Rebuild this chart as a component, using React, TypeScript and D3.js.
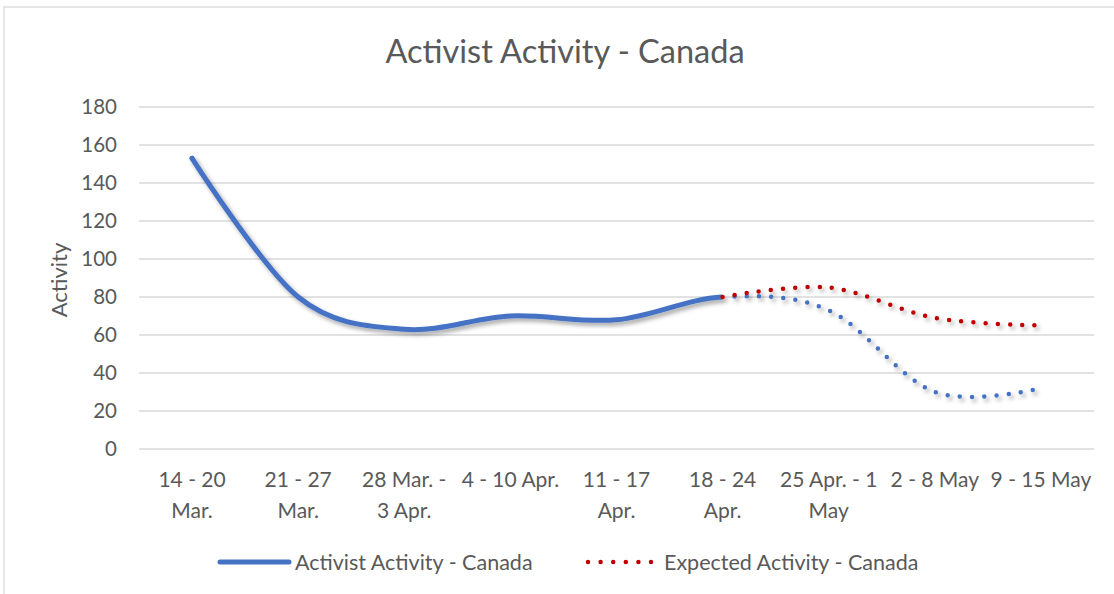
import React from "react";
import * as d3 from "d3";

const categories = [
  "14 - 20 Mar.",
  "21 - 27 Mar.",
  "28 Mar. - 3 Apr.",
  "4 - 10 Apr.",
  "11 - 17 Apr.",
  "18 - 24 Apr.",
  "25 Apr. - 1 May",
  "2 - 8 May",
  "9 - 15 May",
];
const tickLines = [
  ["14 - 20", "Mar."],
  ["21 - 27", "Mar."],
  ["28 Mar. -", "3 Apr."],
  ["4 - 10 Apr."],
  ["11 - 17", "Apr."],
  ["18 - 24", "Apr."],
  ["25 Apr. - 1", "May"],
  ["2 - 8 May"],
  ["9 - 15 May"],
];
// Activist activity: actual up to index 5, projected (dotted) after
const activist = [153, 80, 63, 70, 68, 80, 73, 30, 32];
const lastActualIndex = 5;
const expected: (number | null)[] = [null, null, null, null, null, 80, 85, 69, 65];
const yTicks = [0, 20, 40, 60, 80, 100, 120, 140, 160, 180];

const W = 1114;
const H = 594;
const FONT = "Lato, 'Open Sans', sans-serif";
const TXT = "#595959";
const BLUE = "#4472C4";
const RED = "#C00000";

export default function App() {
  const x = d3.scaleBand<string>().domain(categories).range([139, 1094]);
  const cx = (c: string) => (x(c) as number) + x.bandwidth() / 2;
  const y = d3.scaleLinear().domain([0, 180]).range([449, 107]);

  const pts = activist.map((v, i) => [cx(categories[i]), y(v)] as [number, number]);
  const line = d3.line<[number, number]>().curve(d3.curveCardinal.tension(0));
  const fullPath = line(pts) || "";
  const splitX = cx(categories[lastActualIndex]);

  const expPts = expected
    .map((v, i) => (v == null ? null : ([cx(categories[i]), y(v)] as [number, number])))
    .filter((p): p is [number, number] => p !== null);
  const expPath = line(expPts) || "";

  return (
    <svg
      width={W}
      height={H}
      style={{ position: "absolute", left: 0, top: 0, background: "#fff" }}
    >
      <defs>
        <filter id="shadow" x="-10%" y="-10%" width="120%" height="130%">
          <feDropShadow dx="2.5" dy="3" stdDeviation="2" floodColor="#000" floodOpacity="0.35" />
        </filter>
        <clipPath id="clipSolid">
          <rect x={0} y={0} width={splitX} height={H} />
        </clipPath>
        <clipPath id="clipDot">
          <rect x={splitX + 3} y={0} width={W} height={H} />
        </clipPath>
      </defs>
      <rect x={4} y={7} width={W + 20} height={H + 20} fill="#fff" stroke="#d9d9d9" strokeWidth={1.3} />

      <text x={565} y={63} textAnchor="middle" fontFamily={FONT} fontSize={32.5} fill={TXT}>
        Activist Activity - Canada
      </text>

      {yTicks.map((t) => (
        <g key={t}>
          <line x1={139} x2={1094} y1={y(t)} y2={y(t)} stroke="#d9d9d9" strokeWidth={1.3} />
          <text x={117} y={y(t)} dy="0.35em" textAnchor="end" fontFamily={FONT} fontSize={20.5} fill={TXT}>
            {t}
          </text>
        </g>
      ))}

      <text
        transform={`translate(68,${y(90) + 2})`}
        textAnchor="middle"
        fontFamily={FONT}
        fontSize={22}
        fill={TXT}
      >
        <tspan transform="rotate(-90)" />
      </text>
      <text
        transform={`translate(67,${y(90) + 2}) rotate(-90)`}
        textAnchor="middle"
        fontFamily={FONT}
        fontSize={22}
        fill={TXT}
      >
        Activity
      </text>

      {categories.map((c, i) => (
        <text key={c} x={cx(c)} textAnchor="middle" fontFamily={FONT} fontSize={21} fill={TXT}>
          {tickLines[i].map((l, j) => (
            <tspan key={j} x={cx(c)} y={487 + j * 31}>
              {l}
            </tspan>
          ))}
        </text>
      ))}

      <g filter="url(#shadow)">
        <path d={fullPath} clipPath="url(#clipSolid)" fill="none" stroke={BLUE} strokeWidth={5} strokeLinecap="round" />
        <circle cx={pts[0][0]} cy={pts[0][1]} r={2.5} fill={BLUE} />
        <path
          d={fullPath}
          clipPath="url(#clipDot)"
          fill="none"
          stroke={BLUE}
          strokeWidth={4.5}
          strokeLinecap="round"
          strokeDasharray="0 12.2"
        />
        <path d={expPath} fill="none" stroke={RED} strokeWidth={4.5} strokeLinecap="round" strokeDasharray="0 12.2" />
      </g>

      <line x1={220} x2={289} y1={562} y2={562} stroke={BLUE} strokeWidth={5} strokeLinecap="round" />
      <text x={295} y={562} dy="0.35em" fontFamily={FONT} fontSize={21.5} fill={TXT}>
        Activist Activity - Canada
      </text>
      <line x1={588} x2={652} y1={562} y2={562} stroke={RED} strokeWidth={4.5} strokeLinecap="round" strokeDasharray="0 12.6" />
      <text x={664} y={562} dy="0.35em" fontFamily={FONT} fontSize={21.5} fill={TXT}>
        Expected Activity - Canada
      </text>
    </svg>
  );
}
